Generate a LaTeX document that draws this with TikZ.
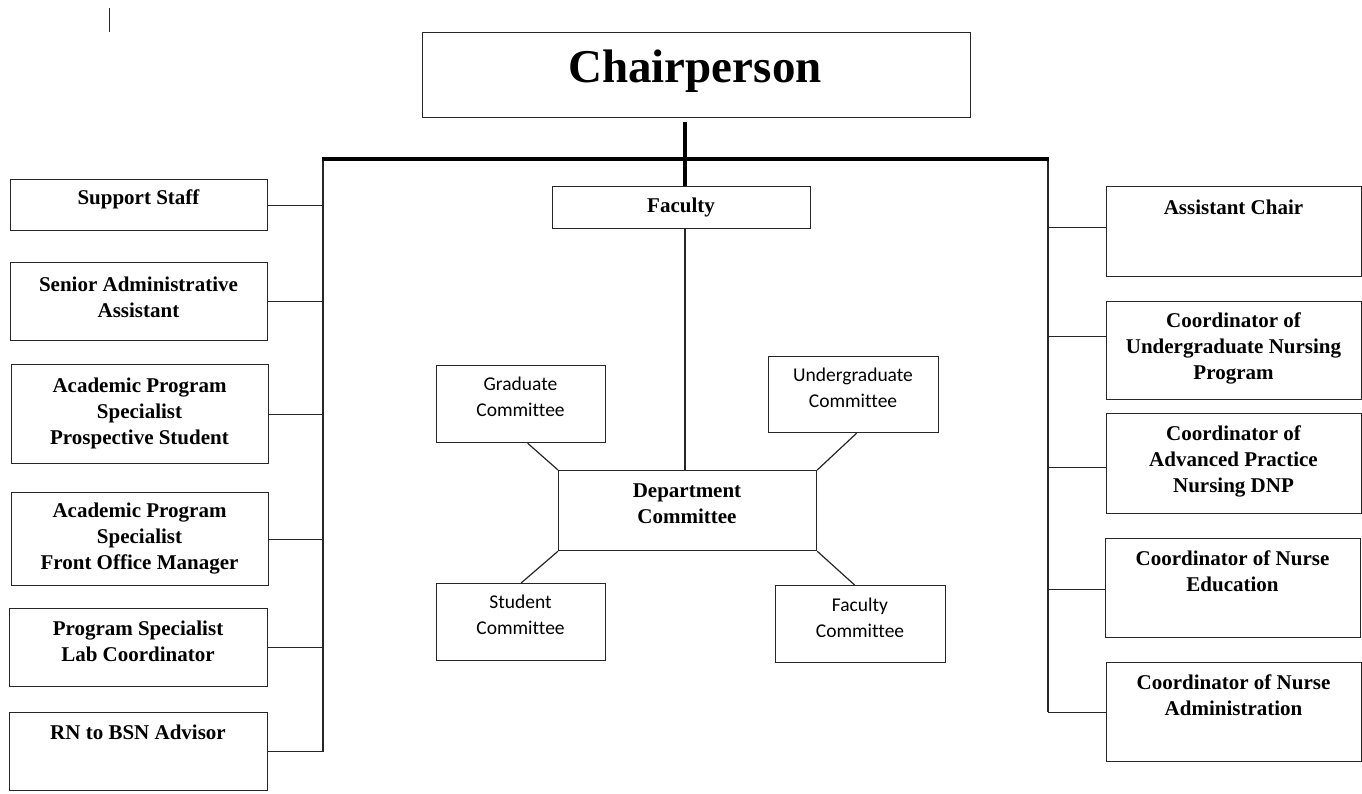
\documentclass[tikz,border=0pt]{standalone}
\usepackage{fontspec}
\setmainfont{Liberation Serif}
\setsansfont[Ligatures=NoCommon]{Carlito}
\begin{document}
\begin{tikzpicture}[x=1pt,y=-1pt,
  box/.style={draw=black!85, line width=1.2pt, inner sep=0pt, anchor=north west},
  sr/.style={font=\fontsize{21}{26}\selectfont\bfseries, align=center, inner sep=0pt},
  ss/.style={font=\sffamily\fontsize{19.5}{26}\selectfont, align=center, inner sep=0pt},
  ln/.style={draw=black!85, line width=1.2pt},
  heavy/.style={draw=black, line width=4pt}]
\useasboundingbox (0,0) rectangle (1362,793);
% stray mark
\coordinate (m1) at (109,8);
\coordinate (m2) at (109,32);
\draw[ln, line width=1pt] (m1) -- (m2);
% top
\node[box, minimum width=548pt, minimum height=85pt] (chair) at (422,32) {};
\node[sr, font=\fontsize{47}{50}\selectfont\bfseries, anchor=base] (chair-t) at (695,82) {Chairperson};
\node[box, minimum width=258pt, minimum height=42pt] (fac) at (552,186) {};
\node[sr] (fac-t) at (681,207) {Faculty};
% left column
\node[box, minimum width=257pt, minimum height=51pt] (sup) at (10,179) {};
\node[sr] (sup-t) at (138.5,199) {Support Staff};
\node[box, minimum width=257pt, minimum height=78pt] (sen) at (10,262) {};
\node[sr] (sen-t) at (138.5,297) {Senior Administrative\\Assistant};
\node[box, minimum width=257pt, minimum height=99pt] (aps1) at (11,364) {};
\node[sr] (aps1-t) at (139.5,413) {Academic Program\\Specialist\\Prospective Student};
\node[box, minimum width=257pt, minimum height=93pt] (aps2) at (11,492) {};
\node[sr] (aps2-t) at (139.5,539) {Academic Program\\Specialist\\Front Office Manager};
\node[box, minimum width=258pt, minimum height=78pt] (psl) at (9,608) {};
\node[sr] (psl-t) at (138,641) {Program Specialist\\Lab Coordinator};
\node[box, minimum width=258pt, minimum height=78pt] (rn) at (9,712) {};
\node[sr] (rn-t) at (138,732) {RN to BSN Advisor};
% right column
\node[box, minimum width=255pt, minimum height=90pt] (ac) at (1106,186) {};
\node[sr] (ac-t) at (1233.5,207) {Assistant Chair};
\node[box, minimum width=255pt, minimum height=98pt] (cun) at (1106,301) {};
\node[sr] (cun-t) at (1233.5,348) {Coordinator of\\Undergraduate Nursing\\Program};
\node[box, minimum width=255pt, minimum height=100pt] (dnp) at (1106,413) {};
\node[sr] (dnp-t) at (1233.5,461) {Coordinator of\\Advanced Practice\\Nursing DNP};
\node[box, minimum width=255pt, minimum height=99pt] (cne) at (1105,538) {};
\node[sr] (cne-t) at (1232.5,571) {Coordinator of Nurse\\Education};
\node[box, minimum width=255pt, minimum height=99pt] (cna) at (1106,662) {};
\node[sr] (cna-t) at (1233.5,695) {Coordinator of Nurse\\Administration};
% committees
\node[box, minimum width=258pt, minimum height=80pt] (dept) at (558,470) {};
\node[sr] (dept-t) at (687,504) {Department\\Committee};
\node[box, minimum width=169pt, minimum height=77pt] (grad) at (436,365) {};
\node[ss] (grad-t) at (520.5,397) {Graduate\\Committee};
\node[box, minimum width=170pt, minimum height=76pt] (ugc) at (768,356) {};
\node[ss] (ugc-t) at (853,388) {Undergraduate\\Committee};
\node[box, minimum width=169pt, minimum height=77pt] (stu) at (436,583) {};
\node[ss] (stu-t) at (520.5,615) {Student\\Committee};
\node[box, minimum width=170pt, minimum height=77pt] (fcm) at (775,585) {};
\node[ss] (fcm-t) at (860,618) {Faculty\\Committee};
% trunk lines
\coordinate (lt) at (323,159);
\coordinate (rt) at (1048,159);
\coordinate (cv) at (685,122);
\draw[ln] (lt) -- (lt |- rn.east);
\draw[ln] (rt) -- (rt |- cna.west);
\draw[heavy] ([xshift=-0.6pt]lt) -- ([xshift=0.6pt]rt);
\draw[heavy] (cv) -- (cv |- fac.north);
\draw[ln] (fac.south -| cv) -- (dept.north -| cv);
% left connectors
\foreach \n in {sup,sen,aps1,aps2,psl,rn} \draw[ln] (\n.east) -- (\n.east -| lt);
% right connectors
\draw[ln] ([yshift=4pt]ac.west) -- ([yshift=4pt]ac.west -| rt);
\draw[ln] ([yshift=14pt]cun.west) -- ([yshift=14pt]cun.west -| rt);
\draw[ln] ([yshift=-4pt]dnp.west) -- ([yshift=-4pt]dnp.west -| rt);
\draw[ln] ([yshift=-1.5pt]cne.west) -- ([yshift=-1.5pt]cne.west -| rt);
\draw[ln] (cna.west) -- (cna.west -| rt);
% committee connectors
\draw[ln] ([xshift=6.5pt]grad.south) -- (dept.north west);
\draw[ln] ([xshift=3pt]ugc.south) -- (dept.north east);
\draw[ln] (stu.north) -- (dept.south west);
\draw[ln] ([xshift=-6pt]fcm.north) -- (dept.south east);
\end{tikzpicture}
\end{document}
